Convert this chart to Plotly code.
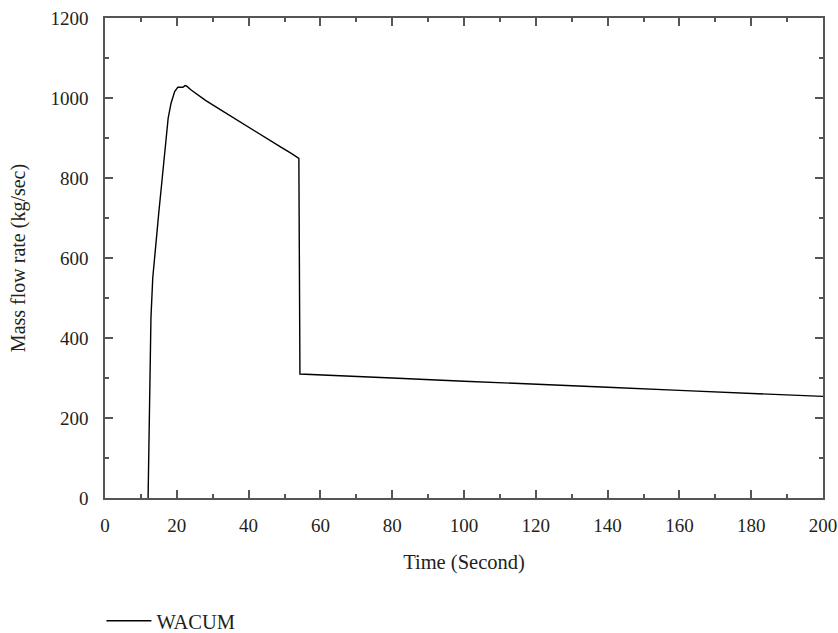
import plotly.graph_objects as go

time_s = [12, 12.2, 12.4, 12.8, 13.3, 14, 15, 16, 17, 17.6, 18.4, 19.4, 20.3, 21.7, 22.3, 22.7,
          24, 26, 28, 31, 34, 37, 40, 43, 46, 49, 52, 54, 54.3,
          60, 80, 100, 120, 140, 160, 180, 200]
mass_flow = [0, 150, 300, 450, 550, 625, 715, 805, 895, 950, 987, 1016, 1027, 1027, 1031, 1030,
             1020, 1006, 994, 977, 960, 943, 926, 909, 893, 877, 861, 849, 310,
             308, 300, 292, 285, 277, 269, 262, 254]

x_ticks = [0, 20, 40, 60, 80, 100, 120, 140, 160, 180, 200]
y_ticks = [0, 200, 400, 600, 800, 1000, 1200]

font_family = "Liberation Serif"
axis_color = "#555555"
text_color = "#231f20"

fig = go.Figure()
fig.add_trace(go.Scatter(x=time_s, y=mass_flow, mode="lines", name="WACUM",
                         line=dict(color="black", width=1.4)))

common = dict(showgrid=False, zeroline=False, showline=True, linecolor=axis_color, linewidth=1.5,
              mirror="ticks", ticks="inside", ticklen=8, tickwidth=1.5, tickcolor=axis_color,
              automargin=False,
              tickfont=dict(family=font_family, size=19, color=text_color))

fig.update_xaxes(range=[0, 200], tickvals=x_ticks, ticklabelstandoff=9,
                 minor=dict(ticks="inside", ticklen=4, dtick=10, tickwidth=1.5, tickcolor=axis_color),
                 title=dict(text="Time (Second)", font=dict(family=font_family, size=20.5, color=text_color), standoff=20),
                 **common)
fig.update_yaxes(range=[0, 1200], tickvals=y_ticks, ticklabelstandoff=11,
                 minor=dict(ticks="inside", ticklen=4, dtick=100, tickwidth=1.5, tickcolor=axis_color),
                 title=dict(text="Mass flow rate (kg/sec)", font=dict(family=font_family, size=20, color=text_color), standoff=19),
                 **common)

fig.update_layout(
    width=838, height=633,
    margin=dict(l=105, r=15, t=18, b=135, autoexpand=False),
    plot_bgcolor="white", paper_bgcolor="white",
    showlegend=True,
    legend=dict(x=-0.005, y=-0.256, xanchor="left", yanchor="middle", itemwidth=45,
                font=dict(family=font_family, size=20.5, color=text_color),
                bgcolor="rgba(0,0,0,0)"),
)

fig.write_html("out.html")
